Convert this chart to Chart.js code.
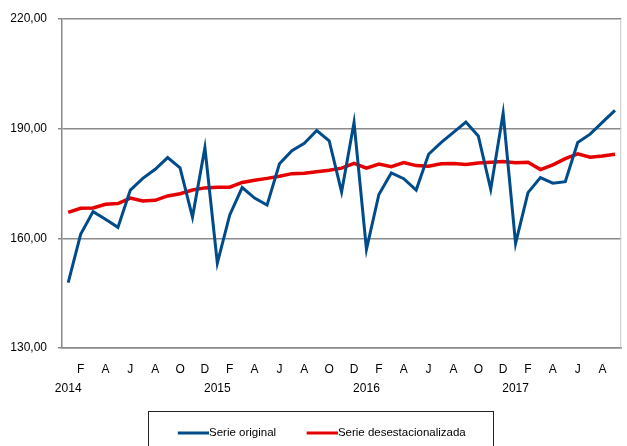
<!DOCTYPE html>
<html>
<head>
<meta charset="utf-8">
<script src="https://cdn.jsdelivr.net/npm/chart.js@4/dist/chart.umd.min.js"></script>
<style>
html,body{margin:0;padding:0;background:#fff;}
#wrap{width:627px;height:446px;position:relative;}
</style>
</head>
<body>
<div id="wrap"><canvas id="c" width="627" height="446"></canvas></div>
<script>
// ---- data ----
const categories = [
 '2014-01','2014-02','2014-03','2014-04','2014-05','2014-06','2014-07','2014-08','2014-09','2014-10','2014-11','2014-12',
 '2015-01','2015-02','2015-03','2015-04','2015-05','2015-06','2015-07','2015-08','2015-09','2015-10','2015-11','2015-12',
 '2016-01','2016-02','2016-03','2016-04','2016-05','2016-06','2016-07','2016-08','2016-09','2016-10','2016-11','2016-12',
 '2017-01','2017-02','2017-03','2017-04','2017-05','2017-06','2017-07','2017-08','2017-09'
];
const monthLabels = [
 '','F','','A','','J','','A','','O','','D',
 '','F','','A','','J','','A','','O','','D',
 '','F','','A','','J','','A','','O','','D',
 '','F','','A','','J','','A',''
];
const yearLabels = [
 '2014','','','','','','','','','','','',
 '2015','','','','','','','','','','','',
 '2016','','','','','','','','','','','',
 '2017','','','','','','','',''
];
const serieOriginal = [
 147.9,161.1,167.3,165.2,163.0,173.2,176.4,178.9,182.1,179.3,165.8,184.8,
 153.2,166.4,173.9,171.0,169.1,180.4,184.0,186.0,189.5,186.7,172.7,191.7,
 157.0,172.0,177.9,176.3,173.2,183.0,186.2,189.0,191.8,188.0,173.4,194.2,
 158.6,172.5,176.6,175.1,175.5,186.2,188.5,191.8,195.0
];
const serieDesest = [
 167.1,168.2,168.3,169.3,169.5,171.0,170.2,170.4,171.6,172.2,173.2,173.8,
 174.0,174.0,175.3,175.9,176.4,177.0,177.7,177.8,178.2,178.6,179.2,180.5,
 179.2,180.3,179.6,180.7,179.9,179.7,180.4,180.5,180.2,180.6,180.8,181.0,
 180.7,180.8,178.8,180.1,181.8,183.1,182.2,182.5,183.0
];
const yTicks = [130, 160, 190, 220];
const seriesNames = ['Serie original', 'Serie desestacionalizada'];

// ---- style ----
const BLUE = '#004C8A';
const RED = '#E60000';
const GRID = '#8a8a8a';
const FONT = '"Liberation Sans Narrow", "Liberation Sans", Arial, sans-serif';
const LEG_FONT = 11.5;
const LEG_BOX = 43;   // legend box width (pointStyleWidth)
const LEG_PAD = 13;   // legend padding

// legend swatch: transparent left part, 31px coloured line ending right before the text
function lineImage(color) {
  const c = document.createElement('canvas');
  c.width = LEG_BOX + 11; c.height = 4;
  const g = c.getContext('2d');
  g.fillStyle = color;
  g.fillRect(c.width - 31, 0.5, 31, 3);
  return c;
}
const legendImgs = [lineImage(BLUE), lineImage(RED)];

const extras = {
  id: 'extras',
  afterDraw(chart) {
    const ctx = chart.ctx;
    const a = chart.chartArea;
    ctx.save();
    ctx.strokeStyle = '#c8c8c8';
    ctx.lineWidth = 1;
    ctx.beginPath();
    ctx.moveTo(a.right - 0.5, a.top);
    ctx.lineTo(a.right - 0.5, a.bottom);
    ctx.stroke();
    const lg = chart.legend;
    if (lg && lg.legendHitBoxes && lg.legendHitBoxes.length) {
      const hb = lg.legendHitBoxes;
      const first = hb[0], last = hb[hb.length - 1];
      const cy = first.top + first.height / 2;
      const left = first.left + LEG_BOX + LEG_FONT / 2 - 31.5 - 30;
      const right = last.left + last.width + 27;
      ctx.strokeStyle = '#222';
      ctx.lineWidth = 1;
      ctx.strokeRect(Math.round(left) + 0.5, Math.round(cy - 22) + 0.5, Math.round(right - left), 60);
    }
    ctx.restore();
  }
};

new Chart(document.getElementById('c'), {
  type: 'line',
  data: {
    labels: categories,
    datasets: [
      { label: seriesNames[0], data: serieOriginal, borderColor: BLUE, backgroundColor: BLUE,
        borderWidth: 3, pointRadius: 0, tension: 0, fill: false },
      { label: seriesNames[1], data: serieDesest, borderColor: RED, backgroundColor: RED,
        borderWidth: 3.5, pointRadius: 0, tension: 0, fill: false }
    ]
  },
  options: {
    responsive: false,
    animation: false,
    layout: { padding: { left: 0, right: 1, top: 19, bottom: -2.75 } },
    plugins: {
      title: { display: false },
      tooltip: { enabled: false },
      legend: {
        display: true,
        position: 'bottom',
        labels: {
          usePointStyle: true,
          pointStyleWidth: LEG_BOX,
          padding: LEG_PAD,
          color: '#000',
          font: { family: FONT, size: LEG_FONT },
          generateLabels(chart) {
            const items = Chart.defaults.plugins.legend.labels.generateLabels(chart);
            items.forEach((it, i) => { it.pointStyle = legendImgs[i]; });
            return items;
          }
        }
      }
    },
    scales: {
      x: {
        type: 'category',
        offset: true,
        grid: { display: false, drawTicks: false },
        border: { display: true, color: GRID, width: 1.5 },
        ticks: {
          autoSkip: false,
          maxRotation: 0,
          minRotation: 0,
          padding: 12,
          color: '#000',
          font: { family: FONT, size: 12, lineHeight: '19px' },
          callback(v, i) { return [monthLabels[i], yearLabels[i]]; }
        },
        afterFit(s) { s.height = 66.25; }
      },
      y: {
        min: yTicks[0],
        max: yTicks[yTicks.length - 1],
        afterBuildTicks(s) { s.ticks = yTicks.map(v => ({ value: v })); },
        grid: { color: GRID, lineWidth: 1.5, tickLength: 4, tickColor: GRID },
        border: { display: true, color: GRID, width: 1.5 },
        ticks: {
          padding: 11,
          color: '#000',
          font: { family: FONT, size: 12 },
          callback(v) { return Number(v).toFixed(2).replace('.', ','); }
        },
        afterFit(s) { s.width = 62; }
      }
    }
  },
  plugins: [extras]
});
</script>
</body>
</html>
